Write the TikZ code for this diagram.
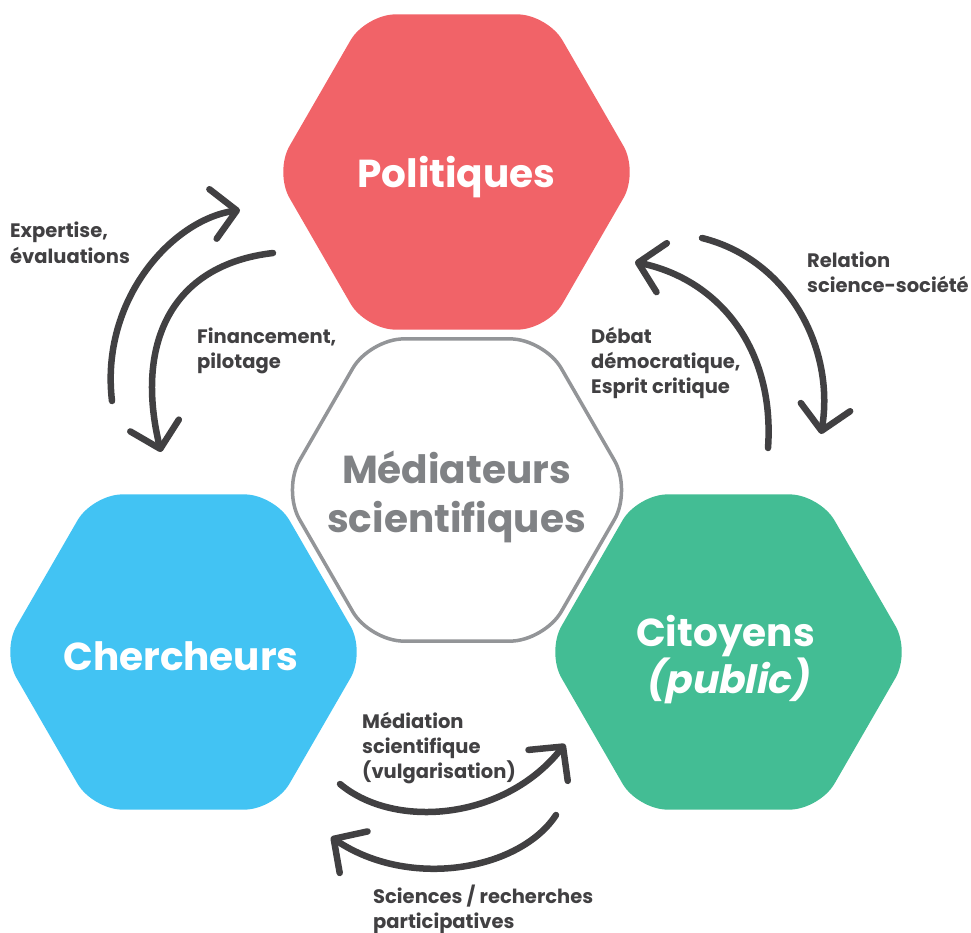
\documentclass[tikz,border=0pt]{standalone}
\usepackage{fontspec}
\setmainfont{Poppins}
\newfontfamily\pubit{Poppins}[FakeSlant=0.2]
\usetikzlibrary{arrows.meta,shapes.geometric}
\definecolor{hexred}{HTML}{F16368}
\definecolor{hexblue}{HTML}{42C3F3}
\definecolor{hexgreen}{HTML}{43BD94}
\definecolor{midgray}{HTML}{939598}
\definecolor{txtgray}{HTML}{808285}
\definecolor{arrdark}{HTML}{414042}
\begin{document}
\begin{tikzpicture}[x=1pt,y=-1pt,
  hexa/.style={regular polygon, regular polygon sides=6, minimum size=364pt, inner sep=0pt, outer sep=0pt, rounded corners=30pt, draw=none},
  hexmid/.style={regular polygon, regular polygon sides=6, minimum size=349pt, inner sep=0pt, outer sep=0pt, rounded corners=34pt, draw=midgray, line width=3.5pt, fill=white},
  big/.style={font=\fontsize{39}{48}\selectfont\bfseries, text=white, inner sep=0pt, anchor=base},
  lab/.style={font=\fontsize{19.5}{25}\selectfont\bfseries, text=arrdark, inner sep=0pt, anchor=base west, align=left},
  arr/.style={line width=6.5pt, draw=arrdark, line cap=round, -{Straight Barb[length=24pt,width=50pt,round]}}]
\useasboundingbox (0,0) rectangle (971,933);
% hexagons
\node[hexa, fill=hexred] (pol) at (456.5,172) {};
\node[hexa, fill=hexblue] (che) at (183.5,652) {};
\node[hexa, fill=hexgreen] (cit) at (728.5,652) {};
\node[hexmid] (med) at (457,490) {};
% hexagon texts
\node[big] (tpol) at (456.5,188) {Politiques};
\node[big] (tche) at (181,670) {Chercheurs};
\node[big] (tcit1) at (725.5,646) {Citoyens};
\node[big] (tcit2) at (727.5,693) {\pubit (public)};
\node[big, text=txtgray] (tmed1) at (456.5,483) {Médiateurs};
\node[big, text=txtgray] (tmed2) at (456.5,532) {scientifiques};
% arrows
\coordinate (a1s) at (112,401);
\coordinate (a1e) at (240,210);
\draw[arr] (a1s) .. controls (100,300) and (172,220) .. (a1e);
\coordinate (a2s) at (273,253);
\coordinate (a2e) at (161,452);
\draw[arr] (a2s) .. controls (170,265) and (135,345) .. (a2e);
\coordinate (a3s) at (702,238);
\coordinate (a3e) at (821,434);
\draw[arr] (a3s) .. controls (790,260) and (835,350) .. (a3e);
\coordinate (a4s) at (768,448);
\coordinate (a4e) at (635,262);
\draw[arr] (a4s) .. controls (775,350) and (720,280) .. (a4e);
\coordinate (a5s) at (340,784);
\coordinate (a5e) at (565,744);
\draw[arr] (a5s) .. controls (395,830) and (505,820) .. (a5e);
\coordinate (a6s) at (556,815);
\coordinate (a6e) at (331,837);
\draw[arr] (a6s) .. controls (520,870) and (410,890) .. (a6e);
% labels (anchor = baseline of last line)
\node[lab] (l1) at (10,263) {Expertise,\\évaluations};
\node[lab] (l2) at (197,368) {Financement,\\pilotage};
\node[lab] (l3) at (807,292) {Relation\\science-société};
\node[lab] (l4) at (591,393) {Débat\\démocratique,\\Esprit critique};
\node[lab] (l5) at (362,778) {Médiation\\scientifique\\(vulgarisation)};
\node[lab] (l6) at (373,928) {Sciences / recherches\\participatives};
\end{tikzpicture}
\end{document}
